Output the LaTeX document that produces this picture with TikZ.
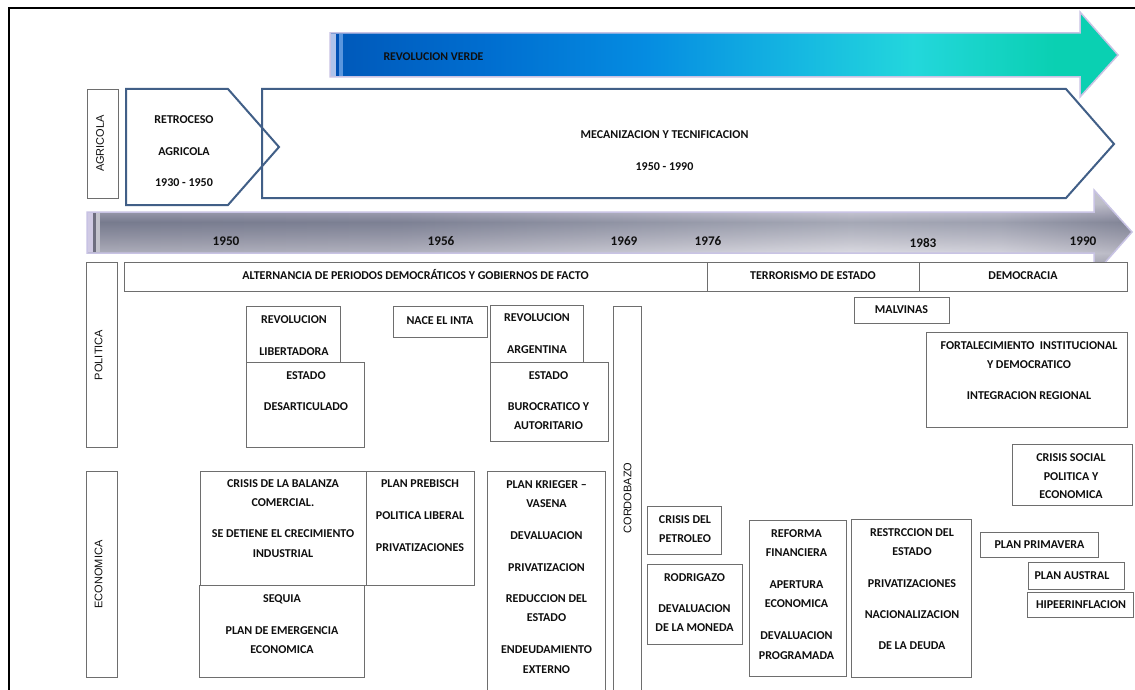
\documentclass[tikz,border=0pt]{standalone}
\usepackage{fontspec}
\setmainfont{Carlito}
\newfontfamily\arialf{Liberation Sans}
\definecolor{txtc}{RGB}{15,15,15}
\definecolor{boxc}{RGB}{110,110,110}
\definecolor{pentc}{RGB}{65,95,135}
\definecolor{lav}{RGB}{200,195,228}
\definecolor{rv1}{RGB}{0,88,185}
\definecolor{rv2}{RGB}{0,110,208}
\definecolor{rv3}{RGB}{5,140,225}
\definecolor{rv4}{RGB}{22,185,225}
\definecolor{rv5}{RGB}{35,215,220}
\definecolor{rv6}{RGB}{10,208,178}
\definecolor{gm1}{RGB}{150,150,165}
\definecolor{gm2}{RGB}{172,172,184}
\definecolor{gm3}{RGB}{205,205,215}
\definecolor{gm4}{RGB}{180,180,192}
\definecolor{gm5}{RGB}{150,152,168}
\definecolor{gm6}{RGB}{115,120,140}
\definecolor{gm7}{RGB}{155,155,175}
\definecolor{gm8}{RGB}{205,205,215}
\definecolor{gm9}{RGB}{215,215,222}
\definecolor{gh1}{RGB}{125,127,145}
\definecolor{gh2}{RGB}{140,142,160}
\definecolor{gh3}{RGB}{240,240,244}
\definecolor{gh4}{RGB}{220,220,228}
\definecolor{gh5}{RGB}{150,150,165}
\pgfdeclarehorizontalshading{verde}{100bp}{color(0bp)=(rv1); color(25bp)=(rv1); color(35bp)=(rv2); color(45bp)=(rv3); color(55bp)=(rv4); color(62bp)=(rv5); color(71bp)=(rv6); color(100bp)=(rv6)}
\pgfdeclareverticalshading{metal}{100bp}{color(0bp)=(gm1); color(25bp)=(gm1); color(32.6bp)=(gm2); color(37.9bp)=(gm3); color(42.6bp)=(gm4); color(48.5bp)=(gm5); color(56.2bp)=(gm6); color(60.9bp)=(gm7); color(67bp)=(gm8); color(75bp)=(gm9); color(100bp)=(gm9)}
\pgfdeclarehorizontalshading{silverH}{100bp}{color(0bp)=(gh1); color(25bp)=(gh1); color(40bp)=(gh2); color(61.5bp)=(gh3); color(68.7bp)=(gh4); color(75bp)=(gh5); color(100bp)=(gh5)}
\newcommand\mybox[5]{\node[bx, anchor=north west, minimum width={#4-#2}, minimum height={#5-#3}] (#1) at (#2,#3) {};}
\newcommand\mytxt[4]{\node[tx] (#1) at (#2,#3) {#4};}
\begin{document}
\begin{tikzpicture}[x=1pt,y=-1pt,
  bx/.style={draw=boxc, line width=0.9pt, fill=white, inner sep=0pt},
  tx/.style={text=txtc, font=\bfseries\fontsize{12}{14}\selectfont, inner sep=0pt, text height=7.8pt, text depth=0pt, anchor=center},
  yr/.style={text=txtc, font=\bfseries\fontsize{13.2}{15}\selectfont, inner sep=0pt, text height=8.4pt, text depth=0pt},
  vlab/.style={text=txtc, font=\arialf\fontsize{11}{13}\selectfont, rotate=90, inner sep=0pt, text height=7.9pt, text depth=0pt},
  pent/.style={draw=pentc, line width=2pt, line join=miter}]
\path[use as bounding box] (0,0) rectangle (1135,690);
\clip (0,0) rectangle (1135,690);
\fill[white] (0,0) rectangle (1135,690);
% frame
\draw[black, line width=2pt] (9,700) -- (9,8) -- (1140,8);
% revolucion verde arrow
\path[shade, shading=verde, draw=lav, line width=1.5pt, line join=miter]
  (330,33) -- (1080,33) -- (1080,12) -- (1118,55) -- (1080,97) -- (1080,77) -- (330,77) -- cycle;
\fill[fill={rgb,255:red,175;green,195;blue,235}] (330.8,33.8) rectangle (336,76.2);
\fill[fill={rgb,255:red,0;green,80;blue,180}] (336,33.8) rectangle (339,76.2);
\fill[fill={rgb,255:red,90;green,150;blue,222}] (339,33.8) rectangle (343,76.2);
\node[text=txtc, font=\bfseries\fontsize{11.8}{13}\selectfont, inner sep=0pt, text height=7.6pt, text depth=0pt] (rv) at (433.5,57) {REVOLUCION VERDE};
% pentagons
\draw[pent] (262,89) -- (1066,89) -- (1114,144) -- (1066,198) -- (262,198) -- cycle;
\draw[pent] (126,89) -- (228,89) -- (279,147) -- (228,205) -- (126,205) -- cycle;
\mytxt{p1a}{184}{120}{RETROCESO}
\mytxt{p1b}{184}{151.5}{AGRICOLA}
\mytxt{p1c}{184}{183}{1930 - 1950}
\mytxt{p2a}{664.5}{134.5}{MECANIZACION Y TECNIFICACION}
\mytxt{p2b}{664.5}{166.5}{1950 - 1990}
% timeline gray arrow
\path[shade, shading=metal]
  (87,212) -- (1094,212) -- (1094,190) -- (1132,232) -- (1094,275) -- (1094,253) -- (87,253) -- cycle;
\path[shade, shading=silverH, opacity=0.4]
  (87,212) -- (1094,212) -- (1094,190) -- (1132,232) -- (1094,275) -- (1094,253) -- (87,253) -- cycle;
\draw[lav, line width=1.5pt, line join=miter]
  (87,212) -- (1094,212) -- (1094,190) -- (1132,232) -- (1094,275) -- (1094,253) -- (87,253) -- cycle;
\fill[fill={rgb,255:red,208;green,202;blue,228}] (87.8,212.8) rectangle (93,252.2);
\fill[fill={rgb,255:red,110;green,110;blue,128}] (93,212.8) rectangle (96,252.2);
\fill[fill={rgb,255:red,195;green,195;blue,205}] (96,212.8) rectangle (100,252.2);
\node[yr] (y50) at (226,241) {1950};
\node[yr] (y56) at (441,241) {1956};
\node[yr] (y69) at (624,241) {1969};
\node[yr] (y76) at (708,241) {1976};
\node[yr] (y83) at (923,243) {1983};
\node[yr] (y90) at (1083,241) {1990};
% boxes
\mybox{agr}{87}{89}{118}{198}
\mybox{pol}{86}{262}{117}{447}
\mybox{eco}{86}{471}{117}{677}
\mybox{alt}{124}{262}{707}{291}
\mybox{ter}{707}{262}{919}{291}
\mybox{dem}{919}{262}{1127}{291}
\mybox{mal}{854}{297}{949}{323}
\mybox{rl}{246}{306}{340}{362}
\mybox{ed}{246}{362}{364}{447}
\mybox{inta}{393}{306}{487}{337}
\mybox{ra}{490}{305}{583}{362}
\mybox{eb}{490}{362}{608}{441}
\mybox{cor}{613}{306}{641}{700}
\mybox{fort}{926}{332}{1127}{427}
\mybox{csp}{1012}{444}{1132}{505}
\mybox{cb}{200}{471}{366}{585}
\mybox{seq}{199}{585}{364}{677}
\mybox{preb}{366}{471}{474}{585}
\mybox{krie}{487}{471}{605}{700}
\mybox{petr}{647}{506}{721}{554}
\mybox{rod}{647}{564}{742}{644}
\mybox{ref}{749}{520}{846}{676}
\mybox{rest}{851}{519}{971}{677}
\mybox{prim}{980}{532}{1098}{557}
\mybox{aus}{1028}{562}{1124}{589}
\mybox{hip}{1027}{592}{1133}{617}
% rotated labels
\node[vlab] (agrt) at (100,143.5) {AGRICOLA};
\node[vlab] (polt) at (98.5,355) {POLITICA};
\node[vlab] (ecot) at (98.5,574.5) {ECONOMICA};
\node[vlab] (cort) at (627.5,498) {CORDOBAZO};
% politica texts
\mytxt{altt}{415.5}{276}{ALTERNANCIA DE PERIODOS DEMOCRÁTICOS Y GOBIERNOS DE FACTO}
\mytxt{tert}{813}{276}{TERRORISMO DE ESTADO}
\mytxt{demt}{1023}{276}{DEMOCRACIA}
\mytxt{malt}{901.5}{310}{MALVINAS}
\mytxt{rl1}{294}{320}{REVOLUCION}
\mytxt{rl2}{294}{352}{LIBERTADORA}
\mytxt{ed1}{306}{375.5}{ESTADO}
\mytxt{ed2}{306}{407}{DESARTICULADO}
\mytxt{intat}{440}{321}{NACE EL INTA}
\mytxt{ra1}{537}{317.5}{REVOLUCION}
\mytxt{ra2}{537}{350}{ARGENTINA}
\mytxt{eb1}{548.5}{376}{ESTADO}
\mytxt{eb2}{548.5}{407}{BUROCRATICO Y}
\mytxt{eb3}{548.5}{426}{AUTORITARIO}
\mytxt{fo1}{1029}{346}{FORTALECIMIENTO\ \ INSTITUCIONAL}
\mytxt{fo2}{1029}{365}{Y DEMOCRATICO}
\mytxt{fo3}{1029}{396}{INTEGRACION REGIONAL}
\mytxt{cs1}{1071}{458}{CRISIS SOCIAL}
\mytxt{cs2}{1071}{477}{POLITICA Y}
\mytxt{cs3}{1071}{494.5}{ECONOMICA}
% economica texts
\mytxt{cb1}{283}{483.5}{CRISIS DE LA BALANZA}
\mytxt{cb2}{283}{503}{COMERCIAL.}
\mytxt{cb3}{283}{534}{SE DETIENE EL CRECIMIENTO}
\mytxt{cb4}{283}{554}{INDUSTRIAL}
\mytxt{sq1}{282}{598.5}{SEQUIA}
\mytxt{sq2}{282}{630.5}{PLAN DE EMERGENCIA}
\mytxt{sq3}{282}{650}{ECONOMICA}
\mytxt{pb1}{420}{484}{PLAN PREBISCH}
\mytxt{pb2}{420}{516}{POLITICA LIBERAL}
\mytxt{pb3}{420}{547.5}{PRIVATIZACIONES}
\mytxt{kr1}{546.5}{484.5}{PLAN KRIEGER --}
\mytxt{kr2}{546.5}{504}{VASENA}
\mytxt{kr3}{546.5}{536}{DEVALUACION}
\mytxt{kr4}{546.5}{567.5}{PRIVATIZACION}
\mytxt{kr5}{546.5}{598.5}{REDUCCION DEL}
\mytxt{kr6}{546.5}{618}{ESTADO}
\mytxt{kr7}{546.5}{650}{ENDEUDAMIENTO}
\mytxt{kr8}{546.5}{669.5}{EXTERNO}
\mytxt{pe1}{685}{519.5}{CRISIS DEL}
\mytxt{pe2}{685}{538.5}{PETROLEO}
\mytxt{ro1}{694.5}{578}{RODRIGAZO}
\mytxt{ro2}{694.5}{609}{DEVALUACION}
\mytxt{ro3}{694.5}{628}{DE LA MONEDA}
\mytxt{rf1}{796.5}{534}{REFORMA}
\mytxt{rf2}{796.5}{553}{FINANCIERA}
\mytxt{rf3}{796.5}{585}{APERTURA}
\mytxt{rf4}{796.5}{604}{ECONOMICA}
\mytxt{rf5}{796.5}{636}{DEVALUACION}
\mytxt{rf6}{796.5}{655.5}{PROGRAMADA}
\mytxt{rs1}{912}{532.5}{RESTRCCION DEL}
\mytxt{rs2}{912}{551.5}{ESTADO}
\mytxt{rs3}{912}{583.5}{PRIVATIZACIONES}
\mytxt{rs4}{912}{615}{NACIONALIZACION}
\mytxt{rs5}{912}{646}{DE LA DEUDA}
\mytxt{prt}{1039.5}{545}{PLAN PRIMAVERA}
\mytxt{aut}{1072}{576}{PLAN AUSTRAL}
\mytxt{hit}{1081}{605}{HIPEERINFLACION}
\end{tikzpicture}
\end{document}
